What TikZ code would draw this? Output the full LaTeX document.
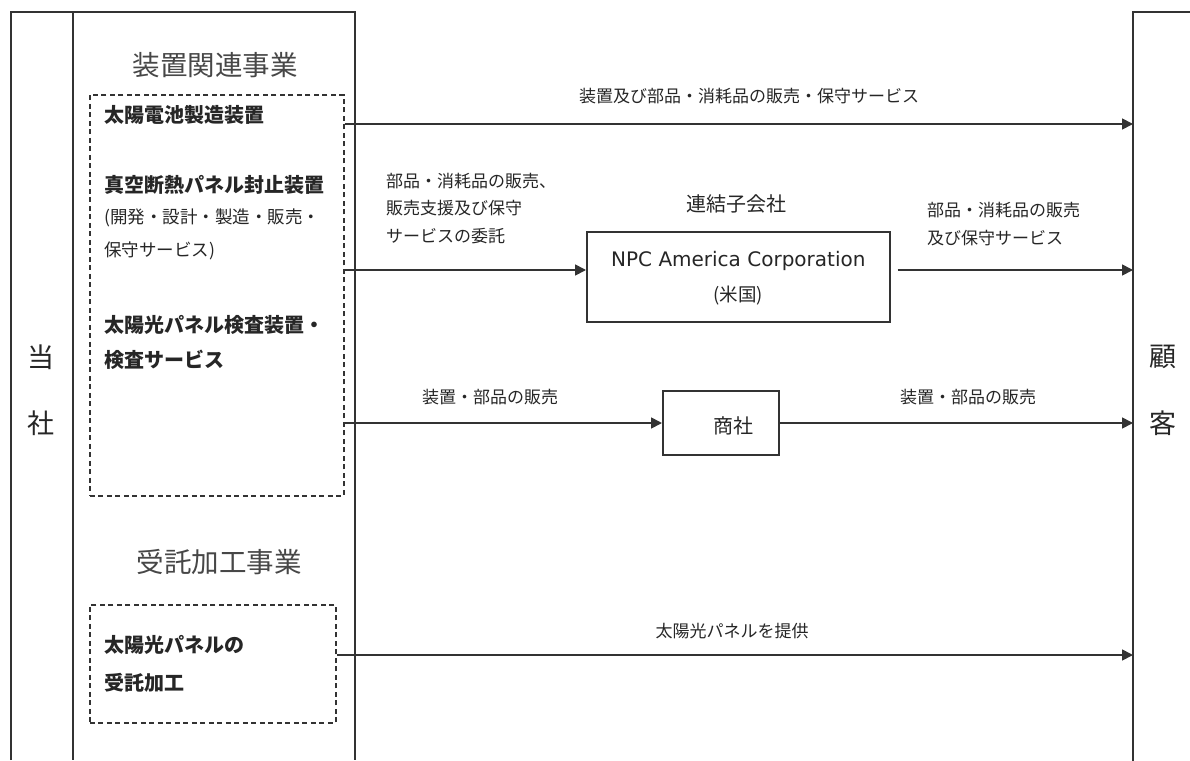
\documentclass[tikz,border=0pt]{standalone}
\usepackage{fontspec}
\setmainfont{Noto Sans CJK JP}
\newfontfamily\latinfont{DejaVu Sans}
\usetikzlibrary{arrows.meta}
\definecolor{ln}{HTML}{333333}
\definecolor{tx}{HTML}{262626}
\begin{document}
\begin{tikzpicture}[x=1pt,y=-1pt,
  line/.style={draw=ln, line width=1.7pt},
  arr/.style={line, -{Triangle[length=11pt,width=11pt]}},
  dbox/.style={draw=ln, line width=1.5pt, dash pattern=on 5pt off 3.5pt, anchor=north west, inner sep=0},
  sbox/.style={draw=ln, line width=1.7pt, anchor=north west, inner sep=0, text=tx},
  lbl/.style={font=\fontsize{17}{27.5}\selectfont, text=tx, inner sep=0},
  itemb/.style={font=\bfseries\fontsize{20}{22}\selectfont, text=tx, anchor=west, inner sep=0},
  itemr/.style={font=\fontsize{17.5}{20}\selectfont, text=tx, anchor=west, inner sep=0},
  head/.style={font=\fontsize{27.5}{30}\selectfont, text=black!72, inner sep=0},
  side/.style={font=\fontsize{27}{30}\selectfont, text=tx, inner sep=0},
  boxt/.style={font=\fontsize{20}{24}\selectfont, text=tx, inner sep=0},
]
\useasboundingbox[fill=white] (0,0) rectangle (1190,760);

% company column
\draw[line] (11,760) -- (11,12) -- (355,12) -- (355,760);
\draw[line] (73,12) -- (73,760);
\node[side] (t1) at (41,357) {当};
\node[side] (t2) at (41,423) {社};

% customer column
\node[anchor=north west, minimum width=60pt, minimum height=750pt, inner sep=0] (cust) at (1133,12) {};
\draw[line] (cust.south west) -- (cust.north west) -- (1190,12);
\node[side] (c1) at (1163,357) {顧};
\node[side] (c2) at (1163,423) {客};

% headings
\node[head] (h1) at (215,65) {装置関連事業};
\node[head] (h2) at (219,562) {受託加工事業};

% dashed boxes
\node[dbox, minimum width=254pt, minimum height=401pt] (eq) at (89,94) {};
\node[dbox, minimum width=246pt, minimum height=118pt] (proc) at (89,604) {};

\node[itemb] (i1) at (104,115) {太陽電池製造装置};
\node[itemb] (i2) at (104,185) {真空断熱パネル封止装置};
\node[itemr] (i3) at (104,218) {(開発・設計・製造・販売・};
\node[itemr] (i4) at (104,251) {保守サービス)};
\node[itemb] (i5) at (104,325) {太陽光パネル検査装置・};
\node[itemb] (i6) at (104,360) {検査サービス};
\node[itemb] (p1) at (104,645) {太陽光パネルの};
\node[itemb] (p2) at (104,683) {受託加工};

% intermediate boxes
\node[sbox, minimum width=303pt, minimum height=90pt] (npc) at (586,231) {};
\node[font=\latinfont\fontsize{20}{24}\selectfont, text=tx, inner sep=0] (npct) at (npc.center |- 0,261) {NPC America Corporation};
\node[font=\fontsize{18.5}{22}\selectfont, text=tx, inner sep=0] (npcc) at (npc.center |- 0,296) {(米国)};
\node[boxt] (npch) at (736,204) {連結子会社};

\node[sbox, minimum width=116pt, minimum height=64pt] (trade) at (662,390) {};
\node[boxt] (tradet) at (733,426) {商社};

% connector start points on the dashed boxes
\coordinate (s1) at (eq.east |- 0,124);
\coordinate (s2) at (eq.east |- 0,270);
\coordinate (s3) at (eq.east |- 0,423);
\coordinate (s4) at (proc.east |- 0,655);

% arrows
\draw[arr] (s1) -- (cust.west |- s1);
\draw[arr] (s2) -- (npc.west |- s2);
\draw[arr] ([xshift=7pt]npc.east |- s2) -- (cust.west |- s2);
\draw[arr] (s3) -- (trade.west |- s3);
\draw[arr] (trade.east |- s3) -- (cust.west |- s3);
\draw[arr] (s4) -- (cust.west |- s4);

% labels
\node[lbl] (l1) at (749,96) {装置及び部品・消耗品の販売・保守サービス};
\node[lbl, anchor=north west, align=left] (l2) at (386,173) {部品・消耗品の販売、\\販売支援及び保守\\サービスの委託};
\node[lbl, anchor=north west, align=left] (l3) at (927,202) {部品・消耗品の販売\\及び保守サービス};
\node[lbl] (l4) at (490,397) {装置・部品の販売};
\node[lbl] (l5) at (968,397) {装置・部品の販売};
\node[lbl] (l6) at (732,631) {太陽光パネルを提供};
\end{tikzpicture}
\end{document}
